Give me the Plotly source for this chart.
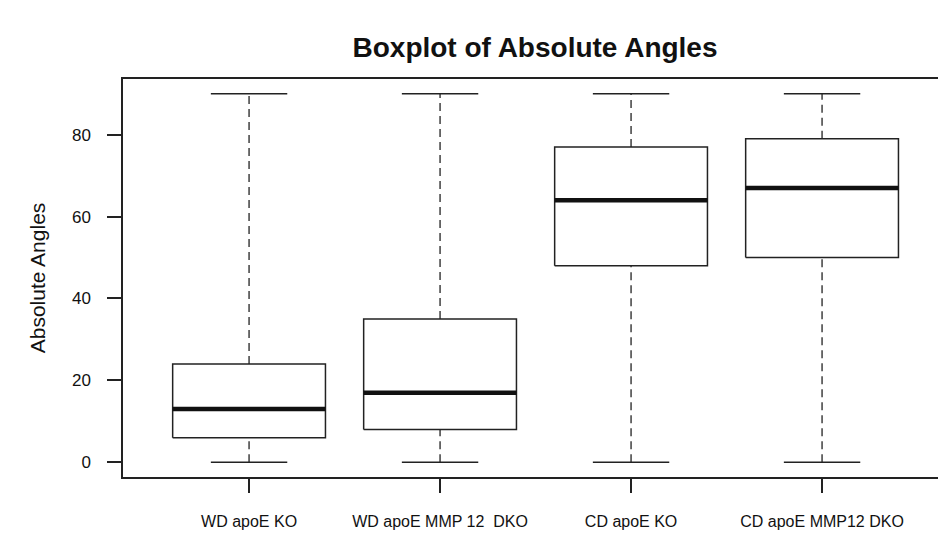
import plotly.graph_objects as go

categories = ["WD apoE KO", "WD apoE MMP 12  DKO", "CD apoE KO", "CD apoE MMP12 DKO"]
lower_whisker = [0, 0, 0, 0]
q1 = [6, 8, 48, 50]
median = [13, 17, 64, 67]
q3 = [24, 35, 77, 79]
upper_whisker = [90, 90, 90, 90]
y_ticks = [0, 20, 40, 60, 80]

BOX_HALF = 0.4
CAP_HALF = 0.2
LC = "#222222"

fig = go.Figure()
for i, name in enumerate(categories):
    x = i + 1
    # dashed whiskers
    fig.add_trace(go.Scatter(x=[x, x, None, x, x],
                             y=[lower_whisker[i], q1[i], None, q3[i], upper_whisker[i]],
                             mode="lines", line=dict(color=LC, width=1.3, dash="8px,5px"),
                             hoverinfo="skip", showlegend=False))
    # caps
    fig.add_trace(go.Scatter(x=[x - CAP_HALF, x + CAP_HALF, None, x - CAP_HALF, x + CAP_HALF],
                             y=[lower_whisker[i], lower_whisker[i], None, upper_whisker[i], upper_whisker[i]],
                             mode="lines", line=dict(color=LC, width=1.5),
                             hoverinfo="skip", showlegend=False))
    # box
    fig.add_trace(go.Scatter(x=[x - BOX_HALF, x + BOX_HALF, x + BOX_HALF, x - BOX_HALF, x - BOX_HALF],
                             y=[q1[i], q1[i], q3[i], q3[i], q1[i]],
                             mode="lines", line=dict(color=LC, width=1.5),
                             hoverinfo="skip", showlegend=False))
    # median
    fig.add_trace(go.Scatter(x=[x - BOX_HALF, x + BOX_HALF], y=[median[i], median[i]],
                             mode="lines", line=dict(color="#111111", width=4.5),
                             hoverinfo="skip", showlegend=False))

fig.update_layout(
    width=938, height=535,
    margin=dict(l=123, r=0, t=79, b=58),
    paper_bgcolor="white", plot_bgcolor="white",
    font=dict(family="Liberation Sans, Arial, sans-serif", color="#111111"),
    title=dict(text="<b>Boxplot of Absolute Angles</b>", x=535 / 938, xanchor="center",
               y=1 - 47 / 535, yanchor="middle", font=dict(size=28, color="#111111")),
    xaxis=dict(range=[0.34, 4.607], tickvals=[1, 2, 3, 4], ticktext=categories,
               showgrid=False, zeroline=False, showline=True, mirror=True,
               linecolor=LC, linewidth=1.5, ticks="outside", ticklen=14, tickwidth=1.5,
               tickcolor=LC, ticklabelstandoff=15, tickfont=dict(size=16, color="#111111")),
    yaxis=dict(range=[-3.6, 93.6], tickvals=y_ticks, showgrid=False, zeroline=False,
               showline=True, mirror=False, linecolor=LC, linewidth=1.5,
               ticks="outside", ticklen=14, tickwidth=1.5, tickcolor=LC,
               ticklabelstandoff=13, tickfont=dict(size=17, color="#111111"),
               title=dict(text="Absolute Angles", font=dict(size=21, color="#111111"), standoff=21)),
)

fig.write_html("out.html")
